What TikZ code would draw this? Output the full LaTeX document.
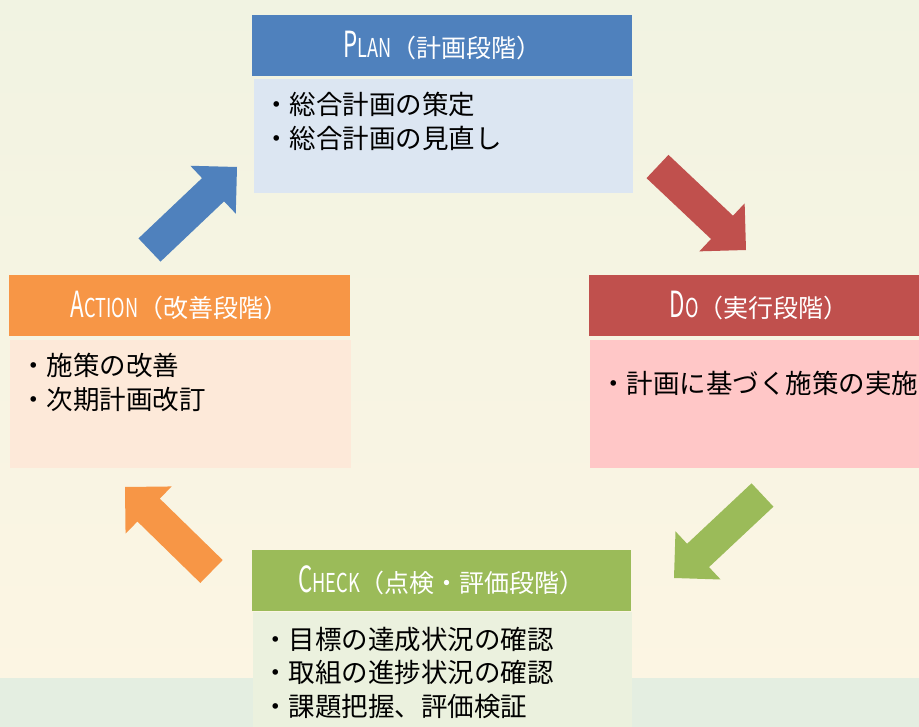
\documentclass[tikz,border=0pt]{standalone}
\usepackage{fontspec}
\setmainfont{Noto Sans CJK JP}
\usetikzlibrary{calc}

\definecolor{planblue}{HTML}{4F81BD}
\definecolor{planpale}{HTML}{DCE6F2}
\definecolor{dored}{HTML}{C0504D}
\definecolor{dopale}{HTML}{FFC7C7}
\definecolor{checkgreen}{HTML}{9BBB59}
\definecolor{checkpale}{HTML}{EBF1DE}
\definecolor{actorange}{HTML}{F79646}
\definecolor{actpale}{HTML}{FDE9D9}
\definecolor{bgtop}{HTML}{F1F3E2}
\definecolor{bgmid}{HTML}{FCF5E3}
\definecolor{bgband}{HTML}{E4EEE1}

% small caps look of the phase names
\newcommand{\phasename}[2]{{\fontsize{36}{36}\selectfont\scalebox{0.62}[1]{#1}}%
  {\fontsize{26}{26}\selectfont\scalebox{0.7}[1]{#2}}}

% fat diagonal arrow from (#1tail) to (#1tip)
\newcommand{\blockarrow}[2]{%
  \coordinate (#1base) at ($(#1tip)!33pt!(#1tail)$);
  \fill[#2] ($(#1tail)!16pt!90:(#1tip)$) -- ($(#1base)!16pt!90:(#1tip)$)
    -- ($(#1base)!33pt!90:(#1tip)$) -- (#1tip)
    -- ($(#1base)!33pt!-90:(#1tip)$) -- ($(#1base)!16pt!-90:(#1tip)$)
    -- ($(#1tail)!16pt!-90:(#1tip)$) -- cycle;}

\tikzset{
  phasehead/.style={fill=#1, text=white, anchor=north west, inner sep=0pt,
    minimum height=61pt, font=\fontsize{25}{25}\selectfont},
  phasebody/.style={fill=#1, anchor=north west, inner sep=0pt},
  items/.style={anchor=north west, inner sep=0pt, align=left,
    font=\fontsize{26.5}{33.5}\selectfont}
}

\begin{document}
\begin{tikzpicture}[x=1pt,y=-1pt]
\useasboundingbox (0,0) rectangle (919,727);
\clip (0,0) rectangle (919,727);
\shade[top color=bgtop, bottom color=bgmid] (0,0) rectangle (919,678);
\fill[bgband] (0,678) rectangle (919,727);

% plan
\node[phasehead=planblue, minimum width=380pt] (planhead) at (252,15)
  {\phasename{P}{LAN}（計画段階）};
\node[phasebody=planpale, minimum width=379pt, minimum height=114pt] (planbody) at (254,79) {};
\node[items] (planitems) at (263,92) {・総合計画の策定\\・総合計画の見直し};

% do
\node[phasehead=dored, minimum width=340pt] (dohead) at (589,275)
  {\phasename{D}{O}（実行段階）};
\node[phasebody=dopale, minimum width=340pt, minimum height=128pt] (dobody) at (590,340) {};
\node[items] (doitems) at (600,371) {・計画に基づく施策の実施};

% check
\node[phasehead=checkgreen, minimum width=379pt] (checkhead) at (252,550)
  {\phasename{C}{HECK}（点検・評価段階）};
\node[phasebody=checkpale, minimum width=379pt, minimum height=120pt] (checkbody) at (253,612) {};
\node[items] (checkitems) at (262,627) {・目標の達成状況の確認\\・取組の進捗状況の確認\\・課題把握、評価検証};

% action
\node[phasehead=actorange, minimum width=341pt] (acthead) at (9,275)
  {\phasename{A}{CTION}（改善段階）};
\node[phasebody=actpale, minimum width=341pt, minimum height=128pt] (actbody) at (10,340) {};
\node[items] (actitems) at (20,353) {・施策の改善\\・次期計画改訂};

% arrows
\coordinate (pdtail) at (657.5,166.5);
\coordinate (pdtip) at (746,250);
\coordinate (dctail) at (762.5,495);
\coordinate (dctip) at (674,578);
\coordinate (catail) at (211.5,571.5);
\coordinate (catip) at (125,487);
\coordinate (aptail) at (149.5,250);
\coordinate (aptip) at (237,167);
\blockarrow{pd}{dored}
\blockarrow{dc}{checkgreen}
\blockarrow{ca}{actorange}
\blockarrow{ap}{planblue}
\end{tikzpicture}
\end{document}
